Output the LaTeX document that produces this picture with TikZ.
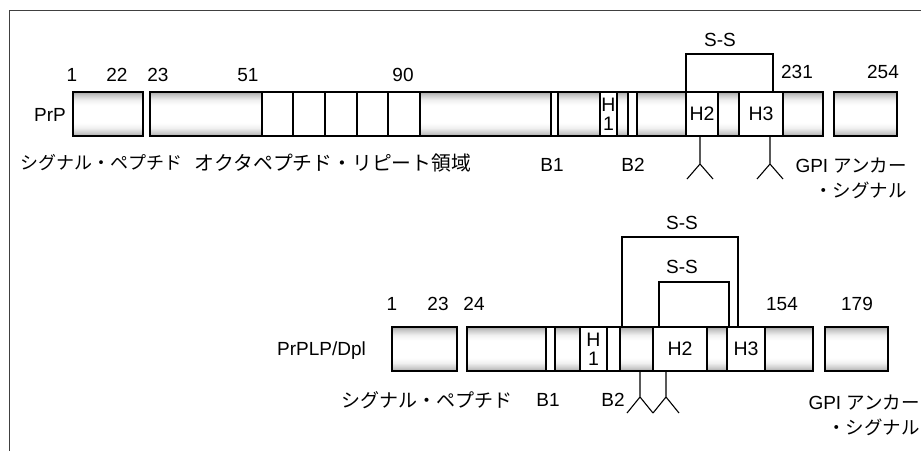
\documentclass[tikz,border=0pt]{standalone}
\usepackage{fontspec}
\setmainfont{Liberation Sans}
\newfontfamily\jp{Noto Sans CJK JP}
\pgfdeclareverticalshading{stipple}{100bp}{color(0bp)=(gray!70); color(25bp)=(gray!70);
  color(28bp)=(gray!45); color(34bp)=(gray!12); color(40bp)=(white); color(60bp)=(white);
  color(66bp)=(gray!12); color(72bp)=(gray!45); color(75bp)=(gray!70); color(100bp)=(gray!70)}
\begin{document}
\begin{tikzpicture}[x=1pt,y=-1pt,
    seg/.style={draw,line width=1.4pt,inner sep=0pt,outer sep=0pt,
      minimum height=44pt,anchor=west,align=center,
      font=\fontsize{19.5}{19}\selectfont},
    shd/.style={seg,shading=stipple},
    wht/.style={seg,fill=white},
    lbl/.style={inner sep=0pt,font=\fontsize{19}{25}\selectfont},
    jlbl/.style={inner sep=0pt,font=\jp\fontsize{18}{24}\selectfont},
    bond/.style={line width=1.1pt}]
  \useasboundingbox (0,0) rectangle (921,451);
  % frame
  \draw[black!75,line width=1pt] (921,10) -- (9,10) -- (9,451);
  % PrP
  \foreach \i/\a/\b/\s/\t in {1/73/143/shd/{}, 2/150/262/shd/{}, 3/262/293/wht/{},
      4/293/325/wht/{}, 5/325/357/wht/{}, 6/357/388/wht/{}, 7/388/420/wht/{},
      8/420/551/shd/{}, 9/551/558/wht/{}, 10/558/600/shd/{}, 11/600/617/wht/{H\\1},
      12/617/628/shd/{}, 13/628/637/wht/{}, 14/637/686/shd/{}, 15/686/718/wht/{H2},
      16/718/739/shd/{}, 17/739/783/wht/{H3}, 18/783/823/shd/{}, 19/834/897/shd/{}}{
    \node[\s,minimum width={(\b-\a)*1pt}] (prp\i) at (\a,114) {\t};
  }
  \foreach \t/\x in {1/72, 22/117, 23/158, 51/248, 90/403}{
    \node[lbl] (prpn\t) at (\x,75) {\t};
  }
  \node[lbl] (prpn231) at (797,72) {231};
  \node[lbl] (prpn254) at (883,72) {254};
  \node[lbl,anchor=east] (prpname) at (66,115) {PrP};
  \coordinate (prpc) at (773,92);
  \draw[bond] (prp15.north west) -- ++(0,-38) -| (prpc);
  \node[lbl] (prpss) at (720,40) {S-S};
  \coordinate (prpg1) at (700,136);
  \coordinate (prpg2) at (770,136);
  \foreach \g in {prpg1,prpg2}{
    \draw[bond] (\g) -- ++(0,28) coordinate (\g t) -- ++(-13,15) (\g t) -- ++(13,15);
  }
  \node[jlbl] (prpsig) at (101,163) {シグナル・ペプチド};
  \node[jlbl,font=\jp\fontsize{19.8}{24}\selectfont] (prpoct) at (333,163) {オクタペプチド・リピート領域};
  \node[lbl] (prpb1) at (552,165) {B1};
  \node[lbl] (prpb2) at (633,165) {B2};
  \node[lbl,anchor=east,align=right] (prpgpi) at (907,178)
    {GPI {\jp\fontsize{18.5}{25}\selectfont アンカー}\\{\jp\fontsize{18.5}{25}\selectfont ・シグナル}};
  % PrPLP/Dpl
  \foreach \i/\a/\b/\s/\t in {1/392/457/shd/{}, 2/467/546/shd/{}, 3/546/555/wht/{},
      4/555/580/shd/{}, 5/580/607/wht/{H\\1}, 6/607/620/wht/{}, 7/620/653/shd/{},
      8/653/707/wht/{H2}, 9/707/727/shd/{}, 10/727/765/wht/{H3}, 11/765/813/shd/{},
      12/825/888/shd/{}}{
    \node[\s,minimum width={(\b-\a)*1pt}] (dpl\i) at (\a,349) {\t};
  }
  \foreach \t/\x in {1/392, 23/438, 24/474, 154/782, 179/857}{
    \node[lbl] (dpln\t) at (\x,304) {\t};
  }
  \node[lbl,anchor=east] (dplname) at (366,351) {PrPLP/Dpl};
  \coordinate (dplc1) at (622,327);
  \coordinate (dplc2) at (738,327);
  \coordinate (dplc3) at (659,327);
  \coordinate (dplc4) at (729,327);
  \draw[bond] (dplc1) -- ++(0,-90) -| (dplc2);
  \draw[bond] (dplc3) -- ++(0,-45) -| (dplc4);
  \node[lbl] (dplss1) at (682,223) {S-S};
  \node[lbl] (dplss2) at (682,267) {S-S};
  \coordinate (dplg1) at (640,371);
  \coordinate (dplg2) at (666,371);
  \foreach \g in {dplg1,dplg2}{
    \draw[bond] (\g) -- ++(0,26) coordinate (\g t) -- ++(-13,16) (\g t) -- ++(13,16);
  }
  \node[jlbl,font=\jp\fontsize{19}{24}\selectfont] (dplsig) at (427,400) {シグナル・ペプチド};
  \node[lbl] (dplb1) at (548,400) {B1};
  \node[lbl] (dplb2) at (613,400) {B2};
  \node[lbl,anchor=east,align=right] (dplgpi) at (920,415)
    {GPI {\jp\fontsize{18.5}{24}\selectfont アンカー}\\{\jp\fontsize{18.5}{24}\selectfont ・シグナル}};
\end{tikzpicture}
\end{document}
